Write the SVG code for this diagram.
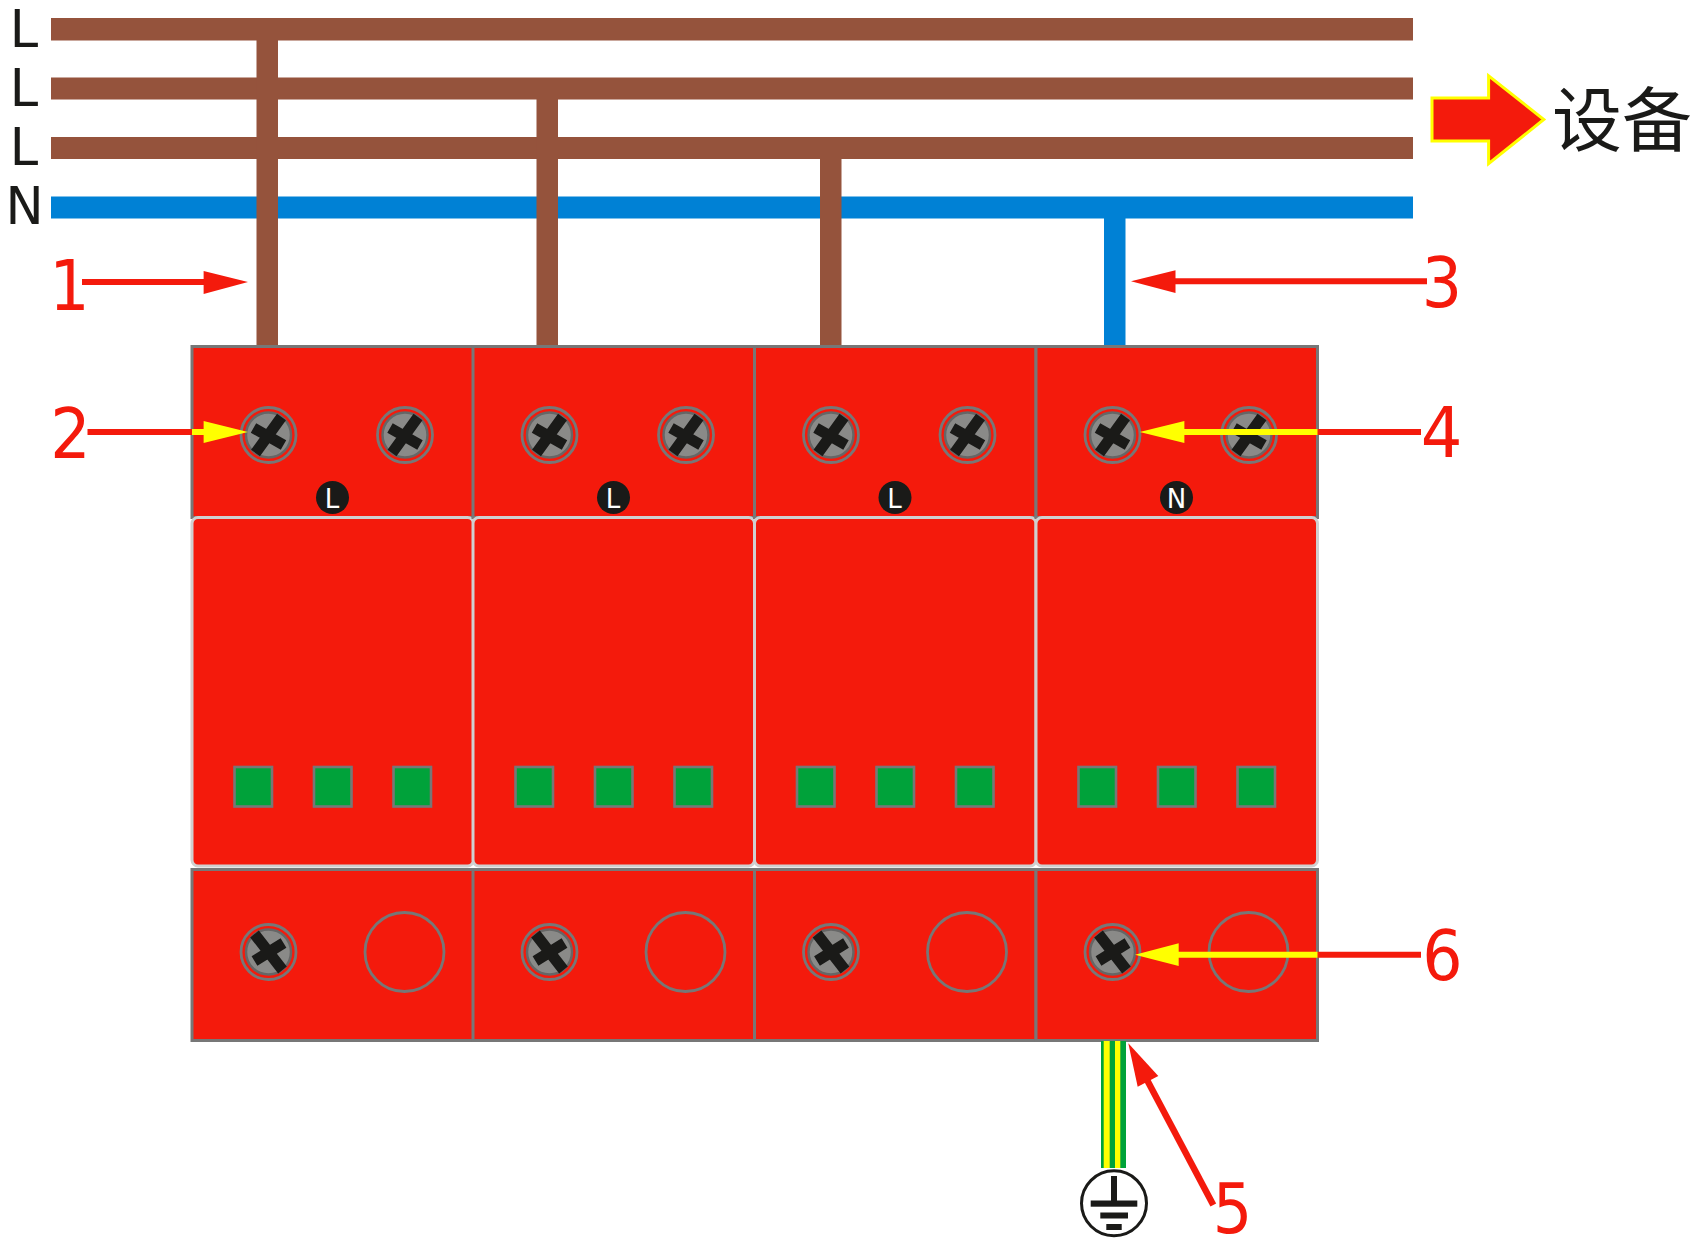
<svg xmlns="http://www.w3.org/2000/svg" width="1700" height="1260" viewBox="0 0 1700 1260">
<style>
.brown{fill:#95533c}.blue{fill:#0081d5}
.body{fill:#f41a0c;stroke:#777;stroke-width:3}
.panel{fill:#f41a0c;stroke:#d0d0d0;stroke-width:3}
.led{fill:#00a23a;stroke:#777;stroke-width:2.600}
.hole{fill:none;stroke:#777;stroke-width:2.800}
.bus{font:51px "DejaVu Sans",sans-serif;fill:#1a1a18;text-anchor:middle}
.num{font:69px "DejaVu Sans",sans-serif;fill:#f41a0c;text-anchor:middle}
.bad{font:26px "DejaVu Sans",sans-serif;fill:#fff;text-anchor:middle}
.rl{stroke:#f41a0c;stroke-width:6;fill:none}.yl{stroke:#ff0;stroke-width:6;fill:none}
.rh{fill:#f41a0c}.yh{fill:#ff0}
.ink{fill:#1a1a18}
</style>
<defs>
<g id="head">
<circle r="27.500" fill="#f41a0c" stroke="#777" stroke-width="2.800"/>
<circle r="22.500" fill="#8a8a88" stroke="#666" stroke-width="2.500"/>
</g>
<g id="screwT">
<use href="#head"/>
<path d="M13-18L-13 18M-15-7L15 10" stroke="#1a1a18" stroke-width="11" fill="none"/>
</g>
<g id="screwB">
<use href="#head"/>
<path d="M-14-18L14 18M-14 9L15-9" stroke="#1a1a18" stroke-width="11" fill="none"/>
</g>
<g id="module">
<rect class="body" x="0" y="0" width="281.500" height="171"/>
<rect class="body" x="0" y="523" width="281.500" height="171"/>
<rect class="panel" x="0" y="171" width="281.500" height="348.500" rx="6"/>
<rect class="led" x="42.500" y="420.500" width="37.500" height="39.500"/>
<rect class="led" x="122" y="420.500" width="37.500" height="39.500"/>
<rect class="led" x="201.500" y="420.500" width="37.500" height="39.500"/>
<use href="#screwT" x="76.500" y="88.500"/>
<use href="#screwT" x="213" y="88.500"/>
<circle cx="140.500" cy="151" r="16.500" class="ink"/>
<use href="#screwB" x="76.500" y="605.500"/>
<circle class="hole" cx="212.500" cy="605.500" r="39.500"/>
</g>
</defs>
<g id="buses">
<rect class="brown" x="51" y="18" width="1362" height="22.500"/>
<rect class="brown" x="51" y="77.500" width="1362" height="22"/>
<rect class="brown" x="51" y="137" width="1362" height="22"/>
<rect class="blue" x="51" y="196.500" width="1362" height="22"/>
<text class="bus" x="24" y="46.500">L</text>
<text class="bus" x="24" y="105.500">L</text>
<text class="bus" x="24" y="165">L</text>
<text class="bus" x="24.500" y="224">N</text>
</g>
<g id="connectors">
<rect class="brown" x="256.500" y="40" width="21.500" height="307"/>
<rect class="brown" x="536.500" y="99" width="21.500" height="248"/>
<rect class="brown" x="820" y="159" width="21.500" height="188"/>
<rect class="blue" x="1104" y="218" width="21.500" height="129"/>
</g>
<g id="module-1" transform="translate(192 346.500)"><use href="#module"/><text class="bad" x="140" y="161">L</text></g>
<g id="module-2" transform="translate(473 346.500)"><use href="#module"/><text class="bad" x="140" y="161">L</text></g>
<g id="module-3" transform="translate(754.500 346.500)"><use href="#module"/><text class="bad" x="140" y="161">L</text></g>
<g id="module-4" transform="translate(1036 346.500)"><use href="#module"/><text class="bad" x="140.500" y="161">N</text></g>
<g id="pe-wire">
<rect x="1101" y="1041" width="25" height="127" fill="#00a23a"/>
<rect x="1103.700" y="1041" width="6" height="127" fill="#ff0"/>
<rect x="1115" y="1041" width="5.300" height="127" fill="#ff0"/>
</g>
<g id="ground">
<circle cx="1114" cy="1203.300" r="32.500" fill="#fff" stroke="#1a1a18" stroke-width="3"/>
<rect class="ink" x="1111" y="1176" width="6" height="28"/>
<rect class="ink" x="1090.700" y="1200.500" width="46.600" height="6.200"/>
<rect class="ink" x="1100.300" y="1212.500" width="27.700" height="6"/>
<rect class="ink" x="1106.300" y="1224" width="15.400" height="6"/>
</g>
<g id="output-arrow">
<path d="M1432 98H1488.600V75.800L1543.800 119.500L1488.600 163.600V141H1432Z" fill="#f41a0c" stroke="#ff0" stroke-width="3"/>
<text x="1552" y="146" font-family="'Noto Sans CJK SC',sans-serif" font-size="70" fill="#1a1a18">设备</text>
</g>
<g id="callouts">
<g id="callout-1"><text class="num" transform="translate(69.500 310) scale(.92 1)">1</text><path class="rl" d="M82 282H205"/><path class="rh" d="M203.600 271L248 282L203.600 294Z"/></g>
<g id="callout-2"><text class="num" transform="translate(70.500 458) scale(.92 1)">2</text><path class="rl" d="M87.500 432H192"/><path class="yl" d="M192 432H205"/><path class="yh" d="M203.600 421L248 432L203.600 443Z"/></g>
<g id="callout-3"><text class="num" transform="translate(1442 306.500) scale(.92 1)">3</text><path class="rl" d="M1174 281.300H1427"/><path class="rh" d="M1131 281.300L1175.500 270.300V293Z"/></g>
<g id="callout-4"><text class="num" transform="translate(1441.500 457) scale(.95 1)">4</text><path class="rl" d="M1317 432H1421"/><path class="yl" d="M1183 432H1317.500"/><path class="yh" d="M1139.700 432L1184.400 421V443Z"/></g>
<g id="callout-5"><text class="num" transform="translate(1232.500 1233) scale(.9 1)">5</text><path class="rl" style="stroke-width:6.500" d="M1213.300 1205L1146 1078"/><path class="rh" d="M1128.300 1043.300L1158.300 1076L1137.700 1086.700Z"/></g>
<g id="callout-6"><text class="num" transform="translate(1442.500 980) scale(.92 1)">6</text><path class="rl" d="M1317 954.700H1421"/><path class="yl" d="M1177 954.700H1317.500"/><path class="yh" d="M1135 954.700L1178.700 943.300V966Z"/></g>
</g>
</svg>
